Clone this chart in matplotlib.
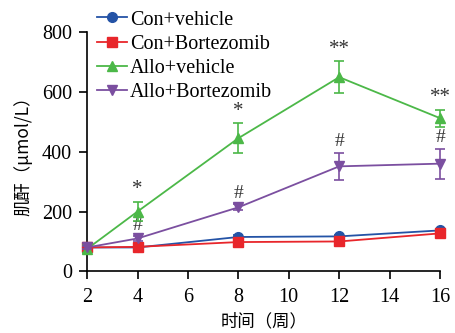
import matplotlib
matplotlib.use("Agg")
import matplotlib.pyplot as plt
from matplotlib.lines import Line2D

weeks = [2, 4, 8, 12, 16]
con_vehicle = [80, 80, 115, 117, 137]
con_vehicle_err = [5, 5, 5, 5, 6]
con_bort = [80, 82, 98, 100, 127]
con_bort_err = [5, 5, 5, 5, 6]
allo_vehicle = [75, 200, 445, 649, 512]
allo_vehicle_err = [12, 33, 50, 53, 28]
allo_bort = [80, 110, 214, 351, 360]
allo_bort_err = [5, 8, 10, 45, 50]
green_marks = ["", "*", "*", "**", "**"]
purple_marks = ["", "#", "#", "#", "#"]
labels = ["Con+vehicle", "Con+Bortezomib", "Allo+vehicle", "Allo+Bortezomib"]
colors = ["#2453A6", "#E8262B", "#4CB848", "#7B4FA0"]
markers = ["o", "s", "^", "v"]

serif = ["Liberation Serif", "DejaVu Serif"]
cjk = ["Noto Sans CJK SC", "Liberation Serif"]

fig = plt.figure(figsize=(4.56, 3.33), dpi=100)
ax = fig.add_axes([0.191, 0.185, 0.774, 0.719])

series = [(con_vehicle, con_vehicle_err),
          (con_bort, con_bort_err),
          (allo_vehicle, allo_vehicle_err),
          (allo_bort, allo_bort_err)]
order = [2, 3, 1, 0]
for idx in order:
    vals, err = series[idx]
    ax.errorbar(weeks, vals, yerr=err, color=colors[idx], marker=markers[idx],
                markersize=7, linewidth=1.3, capsize=3.5, elinewidth=1.2,
                capthick=1.2, clip_on=False, zorder=3 + idx)

for x, v, e, m in zip(weeks, allo_vehicle, allo_vehicle_err, green_marks):
    if m:
        ax.text(x, v + e + 8, m, ha="center", va="bottom", fontsize=15,
                family=serif, color="#333333")
for x, v, e, m in zip(weeks, allo_bort, allo_bort_err, purple_marks):
    if m:
        ax.text(x, v + e + 8, m, ha="center", va="bottom", fontsize=14,
                family=serif, color="#333333")

ax.set_xlim(2, 16)
ax.set_ylim(0, 800)
ax.set_xticks([2, 4, 6, 8, 10, 12, 14, 16])
ax.set_yticks([0, 200, 400, 600, 800])
ax.spines["top"].set_visible(False)
ax.spines["right"].set_visible(False)
for s in ["left", "bottom"]:
    ax.spines[s].set_linewidth(1.2)
ax.tick_params(direction="out", length=6, width=1.2, labelsize=14.5)
ax.tick_params(axis="x", pad=6)
ax.tick_params(axis="y", pad=5)
for lab in ax.get_xticklabels() + ax.get_yticklabels():
    lab.set_family(serif)

ax.set_xlabel("时间（周）", family=cjk, fontsize=12.5, labelpad=4)
ax.set_ylabel("肌酐（μmol/L）", family=cjk, fontsize=12.5, labelpad=7)

handles = [Line2D([], [], color=colors[i], marker=markers[i], markersize=7,
                  linewidth=1.3) for i in range(4)]
ax.legend(handles, labels, loc="upper left",
          bbox_to_anchor=(0.028, 1.09), frameon=False, borderpad=0,
          prop={"family": serif, "size": 14.5}, labelspacing=0.25,
          handlelength=1.5, handletextpad=0.15, borderaxespad=0)

fig.savefig("out.png", dpi=100)
